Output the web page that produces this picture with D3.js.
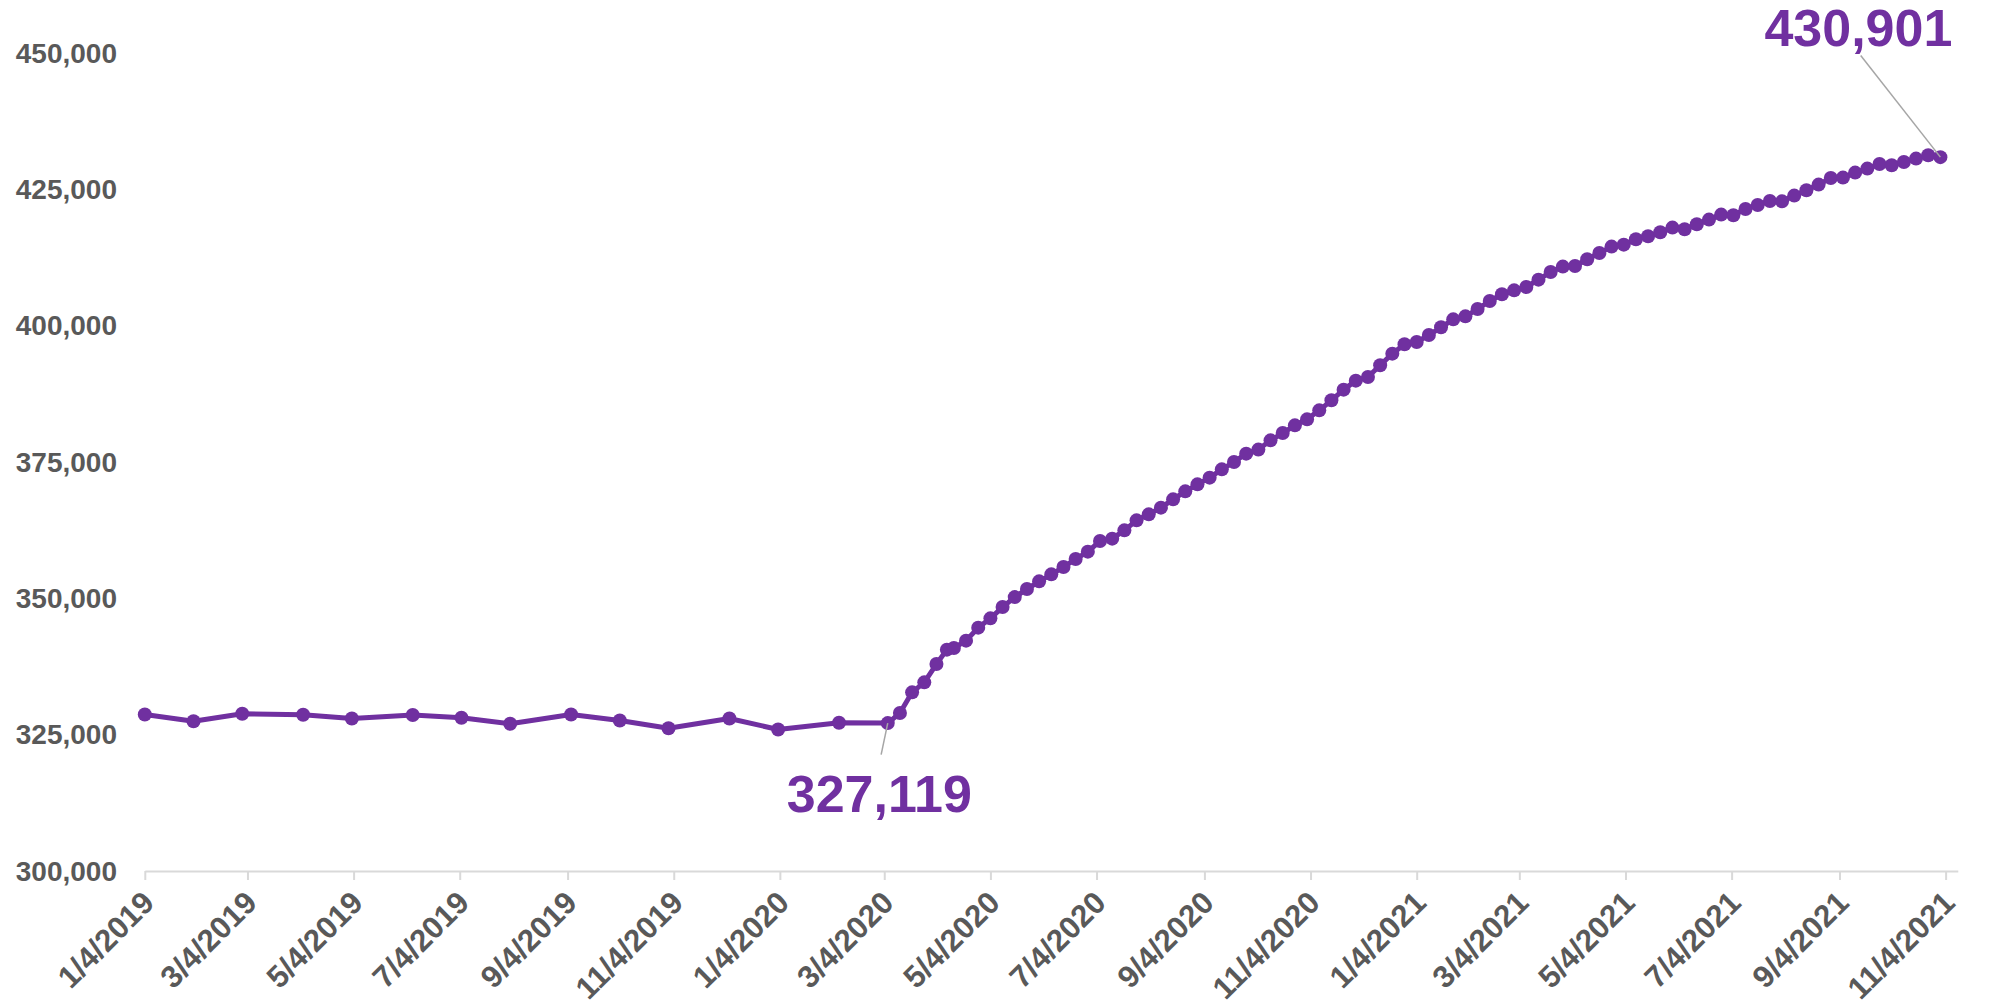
<!DOCTYPE html>
<html>
<head>
<meta charset="utf-8">
<script src="https://cdn.jsdelivr.net/npm/d3@7"></script>
<style>
  body { margin: 0; background: #fff; }
  text { font-family: "Liberation Sans", Arial, sans-serif; }
</style>
</head>
<body>
<script>
// monthly readings (first Friday) before the weekly series starts
var monthlyDates = ["2019-01-04","2019-02-01","2019-03-01","2019-04-05","2019-05-03","2019-06-07",
  "2019-07-05","2019-08-02","2019-09-06","2019-10-04","2019-11-01","2019-12-06",
  "2020-01-03","2020-02-07","2020-03-06"];
var monthlyValues = [328700,327470,328830,328650,327970,328600,328100,327000,328700,327600,
  326190,327970,325950,327180,327119];

var weekly2020Dates = ["2020-03-13","2020-03-20","2020-03-27","2020-04-03","2020-04-09",
  "2020-04-13","2020-04-20","2020-04-27","2020-05-04","2020-05-11","2020-05-18","2020-05-25",
  "2020-06-01","2020-06-08","2020-06-15","2020-06-22","2020-06-29","2020-07-06","2020-07-13",
  "2020-07-20","2020-07-27","2020-08-03","2020-08-10","2020-08-17","2020-08-24","2020-08-31",
  "2020-09-07","2020-09-14","2020-09-21","2020-09-28","2020-10-05","2020-10-12","2020-10-19",
  "2020-10-26","2020-11-02","2020-11-09","2020-11-16","2020-11-23","2020-11-30","2020-12-07",
  "2020-12-14","2020-12-21","2020-12-28"];
var weekly2020Values = [328960,332760,334590,337950,340590,
  340880,342240,344620,346330,348400,350230,351700,353110,354400,355740,357200,358560,
  360500,360940,362470,364300,365400,366630,368150,369620,370900,372130,373650,374990,
  376530,377270,378970,380310,381720,382820,384470,386310,388270,389920,390580,392730,
  394870,396580];

var weekly2021Dates = ["2021-01-04","2021-01-11","2021-01-18","2021-01-25","2021-02-01",
  "2021-02-08","2021-02-15","2021-02-22","2021-03-01","2021-03-08","2021-03-15","2021-03-22",
  "2021-03-29","2021-04-05","2021-04-12","2021-04-19","2021-04-26","2021-05-03","2021-05-10",
  "2021-05-17","2021-05-24","2021-05-31","2021-06-07","2021-06-14","2021-06-21","2021-06-28",
  "2021-07-05","2021-07-12","2021-07-19","2021-07-26","2021-08-02","2021-08-09","2021-08-16",
  "2021-08-23","2021-08-30","2021-09-06","2021-09-13","2021-09-20","2021-09-27","2021-10-04",
  "2021-10-11","2021-10-18","2021-10-25","2021-11-01"];
var weekly2021Values = [397000,398280,399700,401160,401710,403050,404520,405750,406480,
  407090,408440,409840,410830,410940,412170,413320,414500,414860,415840,416390,417120,
  417980,417670,418590,419450,420370,420240,421390,422130,422860,422800,423850,424820,
  425870,427080,427150,428070,428800,429650,429410,430010,430640,431240,430901];

var tickLabels = ["1/4/2019","3/4/2019","5/4/2019","7/4/2019","9/4/2019","11/4/2019",
  "1/4/2020","3/4/2020","5/4/2020","7/4/2020","9/4/2020","11/4/2020",
  "1/4/2021","3/4/2021","5/4/2021","7/4/2021","9/4/2021","11/4/2021"];
var yTicks = [300000,325000,350000,375000,400000,425000,450000];

var callouts = [{date: "2020-03-06", text: "327,119"}, {date: "2021-11-01", text: "430,901"}];

var parseIso = d3.timeParse("%Y-%m-%d");
var parseUs = d3.timeParse("%m/%d/%Y");
var fmtUs = d3.timeFormat("%-m/%-d/%Y");

var dates = monthlyDates.concat(weekly2020Dates, weekly2021Dates);
var values = monthlyValues.concat(weekly2020Values, weekly2021Values);
var data = dates.map(function(d, i) { return {date: parseIso(d), value: values[i]}; });

var purple = "#7030a0";
var grey = "#595959";

var svg = d3.select("body").append("svg")
    .attr("width", 1993)
    .attr("height", 1006);

var x = d3.scaleTime()
    .domain([parseIso("2019-01-04"), parseIso("2021-11-11")])
    .range([144.8, 1957.8]);

var y = d3.scaleLinear()
    .domain([300000, 450000])
    .range([871, 53]);

// y labels only, no axis line or gridlines
svg.append("g")
  .selectAll("text")
    .data(yTicks)
  .enter().append("text")
    .attr("x", 117)
    .attr("y", function(d) { return y(d); })
    .attr("dy", "0.35em")
    .attr("text-anchor", "end")
    .attr("fill", grey)
    .style("font-size", "28px")
    .style("font-weight", "bold")
    .text(d3.format(","));

var xAxis = svg.append("g")
    .attr("transform", "translate(0,871)")
    .call(d3.axisBottom(x)
      .tickValues(tickLabels.map(parseUs))
      .tickFormat(fmtUs)
      .tickSize(9)
      .tickSizeOuter(0));

xAxis.select(".domain").attr("stroke", "#d9d9d9").attr("stroke-width", 2);
xAxis.selectAll(".tick line").attr("stroke", "#d9d9d9").attr("stroke-width", 2);
xAxis.selectAll(".tick text")
    .attr("x", null).attr("y", null).attr("dy", "0.35em")
    .attr("text-anchor", "end")
    .attr("transform", "translate(3,26) rotate(-45)")
    .attr("fill", grey)
    .style("font-family", "'Liberation Sans', Arial, sans-serif")
    .style("font-size", "31px")
    .style("font-weight", "bold");

var line = d3.line()
    .x(function(d) { return x(d.date); })
    .y(function(d) { return y(d.value); });

svg.append("path")
    .datum(data)
    .attr("fill", "none")
    .attr("stroke", purple)
    .attr("stroke-width", 5)
    .attr("stroke-linejoin", "round")
    .attr("d", line);

svg.append("g")
  .selectAll("circle")
    .data(data)
  .enter().append("circle")
    .attr("cx", function(d) { return x(d.date); })
    .attr("cy", function(d) { return y(d.value); })
    .attr("r", 7)
    .attr("fill", purple);

// callouts with leader lines
var calloutOffsets = [
  {lx: -6.6, ly: 31.5, tx: -101, ty: 89},
  {lx: -79.7, ly: -101.7, tx: -176, ty: -110.7}
];

callouts.forEach(function(c, i) {
  var d = parseIso(c.date);
  var pt = data.filter(function(p) { return +p.date === +d; })[0];
  var px = x(pt.date), py = y(pt.value);
  var o = calloutOffsets[i];
  svg.append("line")
      .attr("x1", px).attr("y1", py)
      .attr("x2", px + o.lx).attr("y2", py + o.ly)
      .attr("stroke", "#a6a6a6")
      .attr("stroke-width", 1.5);
  svg.append("text")
      .attr("x", px + o.tx)
      .attr("y", py + o.ty)
      .attr("fill", purple)
      .style("font-size", "52px")
      .style("font-weight", "bold")
      .text(c.text);
});
</script>
</body>
</html>
